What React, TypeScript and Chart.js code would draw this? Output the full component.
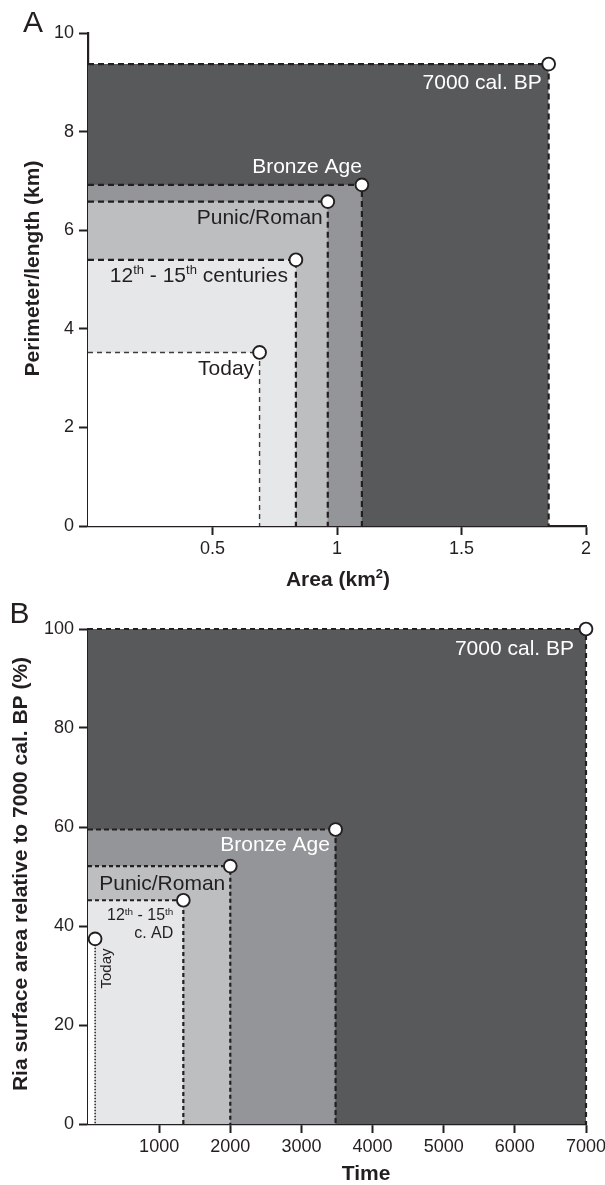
import React, { useEffect, useRef } from 'react';
import { Chart, registerables } from 'chart.js';

Chart.register(...registerables);

const FONT = "'Liberation Sans', Arial, Helvetica, sans-serif";
const INK = '#231f20';

// ---- data ----
const periods = ['7000 cal. BP', 'Bronze Age', 'Punic/Roman', '12th - 15th centuries', 'Today'];
// Panel A
const areaKm2 = [1.85, 1.1, 0.963, 0.835, 0.689];
const perimeterKm = [9.37, 6.92, 6.58, 5.4, 3.52];
const areaTicks = [0.5, 1, 1.5, 2];
const perimeterTicks = [0, 2, 4, 6, 8, 10];
const labelsA = ['7000 cal. BP', 'Bronze Age', 'Punic/Roman', '12^th^ - 15^th^ centuries', 'Today'];
// Panel B
const timeYears = [7000, 3480, 2000, 1340, 100];
const relativeAreaPct = [100, 59.5, 52.1, 45.2, 37.4];
const timeTicks = [1000, 2000, 3000, 4000, 5000, 6000, 7000];
const pctTicks = [0, 20, 40, 60, 80, 100];
const labelsB = ['7000 cal. BP', 'Bronze Age', 'Punic/Roman', '12^th^ - 15^th^|c. AD', 'Today'];

// ---- styles ----
const FILLS = ['#58595b', '#939598', '#bcbec0', '#e6e7e8', '#ffffff'];

type EdgeStyle = { dash: number[]; width: number; color?: string; hideTop?: boolean };
type LabelStyle = {
  dx: number; dy: number; color: string; size: number;
  align?: 'left' | 'right' | 'center'; rotate?: boolean; lineGap?: number;
};

const edgeStyleA: EdgeStyle[] = [
  { dash: [6, 4], width: 2.2 },
  { dash: [6, 4], width: 2.2 },
  { dash: [6, 4], width: 2.2 },
  { dash: [6, 4], width: 2.2 },
  { dash: [5, 4], width: 1.4, color: '#3c3c3c' },
];
const edgeStyleB: EdgeStyle[] = [
  { dash: [5, 4], width: 2.2 },
  { dash: [5, 3], width: 2.2 },
  { dash: [4, 3], width: 2.2 },
  { dash: [4, 3], width: 2.2 },
  { dash: [1.5, 1.5], width: 1.5, hideTop: true },
];

const labelStyleA: LabelStyle[] = [
  { dx: -7, dy: 25, color: '#ffffff', size: 21 },
  { dx: 0, dy: -12, color: '#ffffff', size: 21 },
  { dx: -5, dy: 22, color: INK, size: 21 },
  { dx: -8, dy: 22, color: INK, size: 21 },
  { dx: -5.5, dy: 23, color: INK, size: 21 },
];
const labelStyleB: LabelStyle[] = [
  { dx: -12, dy: 26, color: '#ffffff', size: 21 },
  { dx: -5.6, dy: 22, color: '#ffffff', size: 21 },
  { dx: -5, dy: 24, color: INK, size: 21 },
  { dx: -10, dy: 20, color: INK, size: 16, lineGap: 18 },
  { dx: 15.5, dy: 49.6, color: INK, size: 15, rotate: true, align: 'left' },
];

type TextSpec = { t: string; x: number; y: number };
type Panel = {
  xs: number[]; ys: number[]; labels: string[];
  xMin: number; xMax: number; yMin: number; yMax: number;
  xTicks: number[]; yTicks: number[];
  height: number; plotTop: number; plotBottom: number; plotLeft: number; plotRight: number;
  edges: EdgeStyle[]; labelStyles: LabelStyle[];
  letter: TextSpec; yTitle: TextSpec; xTitle: TextSpec;
};

const panelA: Panel = {
  xs: areaKm2, ys: perimeterKm, labels: labelsA,
  xMin: 0, xMax: 2, yMin: 0, yMax: 10,
  xTicks: areaTicks, yTicks: perimeterTicks,
  height: 595, plotTop: 33, plotBottom: 526, plotLeft: 88, plotRight: 586,
  edges: edgeStyleA, labelStyles: labelStyleA,
  letter: { t: 'A', x: 23, y: 32 },
  yTitle: { t: 'Perimeter/length (km)', x: 39.3, y: 268.5 },
  xTitle: { t: 'Area (km^2^)', x: 338, y: 586 },
};

const panelB: Panel = {
  xs: timeYears, ys: relativeAreaPct, labels: labelsB,
  xMin: 0, xMax: 7000, yMin: 0, yMax: 100,
  xTicks: timeTicks, yTicks: pctTicks,
  height: 590, plotTop: 34, plotBottom: 529, plotLeft: 88, plotRight: 586,
  edges: edgeStyleB, labelStyles: labelStyleB,
  letter: { t: 'B', x: 9.5, y: 28.3 },
  yTitle: { t: 'Ria surface area relative to 7000 cal. BP (%)', x: 27, y: 279 },
  xTitle: { t: 'Time', x: 366, y: 585 },
};

function drawRich(
  ctx: CanvasRenderingContext2D, text: string, x: number, y: number,
  size: number, weight: string, align: 'left' | 'right' | 'center'
) {
  const parts = text.split('^');
  const supSize = size * 0.62;
  const fontFor = (k: number) => `${weight} ${k % 2 ? supSize : size}px ${FONT}`;
  const widths = parts.map((p, k) => {
    ctx.font = fontFor(k);
    return ctx.measureText(p).width;
  });
  const total = widths.reduce((a, b) => a + b, 0);
  let cx = align === 'right' ? x - total : align === 'center' ? x - total / 2 : x;
  ctx.textAlign = 'left';
  ctx.textBaseline = 'alphabetic';
  parts.forEach((p, k) => {
    ctx.font = fontFor(k);
    ctx.fillText(p, cx, k % 2 ? y - size * 0.36 : y);
    cx += widths[k];
  });
}

function makeAnnotPlugin(panel: Panel) {
  return {
    id: 'periodLabels',
    afterDraw(chart: any) {
      const ctx: CanvasRenderingContext2D = chart.ctx;
      const xs = chart.scales.x;
      const ys = chart.scales.y;
      ctx.save();
      panel.labels.forEach((label, i) => {
        const st = panel.labelStyles[i];
        const px = xs.getPixelForValue(panel.xs[i]) + st.dx;
        const py = ys.getPixelForValue(panel.ys[i]) + st.dy;
        ctx.fillStyle = st.color;
        if (st.rotate) {
          ctx.save();
          ctx.translate(px, py);
          ctx.rotate(-Math.PI / 2);
          drawRich(ctx, label, 0, 0, st.size, 'normal', st.align || 'left');
          ctx.restore();
        } else {
          label.split('|').forEach((line, j) => {
            drawRich(ctx, line, px, py + j * (st.lineGap || 0), st.size, 'normal', st.align || 'right');
          });
        }
      });
      ctx.fillStyle = INK;
      drawRich(ctx, panel.letter.t, panel.letter.x, panel.letter.y, 30, 'normal', 'left');
      drawRich(ctx, panel.xTitle.t, panel.xTitle.x, panel.xTitle.y, 21, 'bold', 'center');
      ctx.save();
      ctx.translate(panel.yTitle.x, panel.yTitle.y);
      ctx.rotate(-Math.PI / 2);
      drawRich(ctx, panel.yTitle.t, 0, 0, 21, 'bold', 'center');
      ctx.restore();
      ctx.restore();
    },
  };
}

function axisCommon(ticks: number[]) {
  return {
    type: 'linear' as const,
    z: 1,
    afterBuildTicks: (s: any) => {
      s.ticks = ticks.map((v) => ({ value: v }));
    },
    ticks: {
      autoSkip: false,
      maxRotation: 0,
      color: INK,
      font: { family: FONT, size: 18 },
      callback: (v: any) => String(v),
    },
    grid: {
      display: true,
      drawOnChartArea: false,
      drawTicks: true,
      tickLength: 9,
      tickWidth: 2,
      tickColor: INK,
    },
    border: { display: true, color: INK, width: 2.2 },
  };
}

function makeConfig(panel: Panel): any {
  const N = panel.xs.length;
  const rects = panel.xs.map((x, i) => {
    const es = panel.edges[i];
    const col = es.color || INK;
    return {
      type: 'line',
      label: periods[i],
      data: [
        { x: panel.xMin, y: panel.ys[i] },
        { x, y: panel.ys[i] },
        { x, y: panel.yMin },
      ],
      borderColor: col,
      borderWidth: es.width,
      borderDash: es.dash,
      borderCapStyle: 'butt',
      backgroundColor: FILLS[i],
      fill: 'origin',
      pointRadius: 0,
      pointHoverRadius: 0,
      tension: 0,
      order: N - i,
      clip: false,
      segment: es.hideTop
        ? { borderColor: (c: any) => (c.p0DataIndex === 0 ? 'rgba(0,0,0,0)' : col) }
        : undefined,
    };
  });
  const points = {
    type: 'line',
    label: 'points',
    data: panel.xs.map((x, i) => ({ x, y: panel.ys[i] })),
    showLine: false,
    pointRadius: 6.4,
    pointHoverRadius: 6.4,
    pointBackgroundColor: '#ffffff',
    pointBorderColor: INK,
    pointBorderWidth: 1.9,
    order: 0,
    clip: false,
  };

  const xAxis: any = axisCommon(panel.xTicks);
  xAxis.min = panel.xMin;
  xAxis.max = panel.xMax;
  xAxis.ticks.padding = 3;
  xAxis.afterFit = (s: any) => {
    s.height = panel.height - panel.plotBottom;
    s.paddingLeft = 0;
    s.paddingRight = 0;
  };
  const yAxis: any = axisCommon(panel.yTicks);
  yAxis.min = panel.yMin;
  yAxis.max = panel.yMax;
  yAxis.ticks.padding = 5;
  yAxis.afterFit = (s: any) => {
    s.width = panel.plotLeft;
    s.paddingTop = 0;
    s.paddingBottom = 0;
  };

  return {
    type: 'line',
    data: { datasets: [points, ...rects] },
    options: {
      responsive: false,
      maintainAspectRatio: false,
      animation: false,
      devicePixelRatio: 1,
      events: [],
      layout: {
        padding: { left: 0, right: 605 - panel.plotRight, top: panel.plotTop, bottom: 0 },
      },
      plugins: {
        legend: { display: false },
        tooltip: { enabled: false },
        title: { display: false },
      },
      scales: { x: xAxis, y: yAxis },
    },
    plugins: [makeAnnotPlugin(panel)],
  };
}

function ChartPanel({ panel }: { panel: Panel }) {
  const ref = useRef<HTMLCanvasElement>(null);
  useEffect(() => {
    const chart = new Chart(ref.current as HTMLCanvasElement, makeConfig(panel));
    return () => chart.destroy();
  }, [panel]);
  return (
    <canvas
      ref={ref}
      width={605}
      height={panel.height}
      style={{ display: 'block', width: 605, height: panel.height }}
    />
  );
}

export default function App() {
  return (
    <div
      style={{
        position: 'absolute',
        left: 0,
        top: 0,
        width: 605,
        height: 1185,
        background: '#ffffff',
      }}
    >
      <ChartPanel panel={panelA} />
      <ChartPanel panel={panelB} />
    </div>
  );
}
